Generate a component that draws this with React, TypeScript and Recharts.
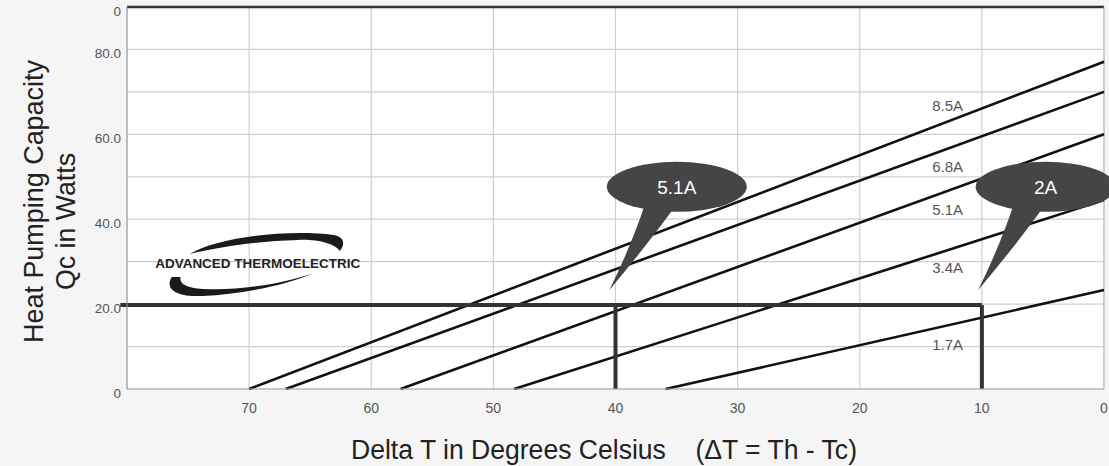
import React from 'react';
import { LineChart, Line, XAxis, YAxis, CartesianGrid, ReferenceLine, ReferenceDot } from 'recharts';

// pump current curves: each one is a straight line from (dT at Qc=0) to (Qc at dT=0)
const CURRENTS = ['8.5A', '6.8A', '5.1A', '3.4A', '1.7A'];
const DT_AT_ZERO_QC = [70, 67, 57.6, 48.3, 35.9];
const QC_AT_ZERO_DT = [77.1, 70, 60, 44.5, 23.3];
const LABEL_DT = 12.8;
const LABEL_QC = [66.7, 52.4, 42.2, 28.7, 10.6];

const X_TICKS = [80, 70, 60, 50, 40, 30, 20, 10, 0];
const Y_TICKS = [0, 10, 20, 30, 40, 50, 60, 70, 80, 90];
const Y_TICK_LABELS: Record<number, string> = { 0: '0', 20: '20.0', 40: '40.0', 60: '60.0', 80: '80.0', 90: '0' };

// operating point annotation
const OPERATING_QC = 19.8;
const OPERATING_DT = [40, 10];
const CALLOUTS = [
  { label: '5.1A', dt: 40.5, qc: 23.3 },
  { label: '2A', dt: 10.3, qc: 23.3 },
];
const LOGO = { dt: 69.3, qc: 29.7, text: 'ADVANCED THERMOELECTRIC' };

const FONT = '"Liberation Sans", Arial, sans-serif';

const series = CURRENTS.map((name, i) => ({
  name,
  data: [
    { x: DT_AT_ZERO_QC[i], y: 0 },
    { x: 0, y: QC_AT_ZERO_DT[i] },
  ],
}));

const Callout = ({ cx, cy, label }: any) => {
  // cx, cy is the tip of the pointer
  const ex = cx + 67.4;
  const ey = cy - 103.3;
  return (
    <g>
      <path
        d={`M ${ex - 32} ${ey + 18} Q ${cx + 22} ${cy - 45} ${cx} ${cy} Q ${cx + 40} ${cy - 48} ${ex - 2} ${ey + 20} Z`}
        fill="#454545"
      />
      <ellipse cx={ex} cy={ey} rx={70} ry={25} fill="#454545" />
      <text x={ex} y={ey + 7} textAnchor="middle" fill="#ffffff" fontSize={19} fontFamily={FONT}>
        {label}
      </text>
    </g>
  );
};

const Logo = ({ cx, cy }: any) => (
  <g transform={`translate(${cx},${cy})`}>
    <path
      d="M -68 -9 C -40 -26 30 -34 76 -28 C 88 -26 87 -17 82 -12 C 78 -19 60 -24 40 -23 C 0 -22 -40 -16 -68 -9 Z"
      fill="#1a1a1a"
    />
    <path
      d="M -86 14 C -94 28 -78 34 -55 33 C -15 31 30 22 56 10 C 25 21 -20 28 -55 26 C -72 25 -79 20 -77 14 Z"
      fill="#1a1a1a"
    />
    <text
      x={0}
      y={5}
      textAnchor="middle"
      fontSize={13}
      fontWeight="bold"
      fontFamily={FONT}
      fill="#222"
      textLength={205}
      lengthAdjust="spacingAndGlyphs"
    >
      {LOGO.text}
    </text>
  </g>
);

export default function App() {
  return (
    <div style={{ position: 'absolute', left: 0, top: 0, width: 1109, height: 466, background: '#f5f5f5', overflow: 'hidden' }}>
      <LineChart width={1109} height={466} margin={{ top: 7, right: 5, left: 0, bottom: 0 }}>
        <CartesianGrid fill="#ffffff" stroke="#cfcfcf" strokeWidth={1.2} />
        <XAxis
          type="number"
          dataKey="x"
          domain={[0, 80]}
          reversed
          ticks={X_TICKS}
          interval={0}
          tickFormatter={(v: number) => (v === 80 ? '' : String(v))}
          height={77}
          tickSize={0}
          tickMargin={14}
          tick={{ fill: '#555', fontSize: 14, fontFamily: FONT }}
          axisLine={{ stroke: '#aaa' }}
          tickLine={false}
        />
        <YAxis
          type="number"
          domain={[0, 90]}
          ticks={Y_TICKS}
          interval={0}
          tickFormatter={(v: number) => Y_TICK_LABELS[v] ?? ''}
          width={127}
          tickSize={0}
          tickMargin={6}
          tick={{ fill: '#555', fontSize: 13.5, fontFamily: FONT, dy: 4 }}
          axisLine={{ stroke: '#999' }}
          tickLine={false}
        />
        <ReferenceLine y={90} stroke="#333" strokeWidth={2.5} />
        <ReferenceLine x={0} stroke="#bbb" strokeWidth={1} />

        {series.map((s) => (
          <Line
            key={s.name}
            data={s.data}
            dataKey="y"
            name={s.name}
            stroke="#111"
            strokeWidth={2.6}
            dot={false}
            activeDot={false}
            isAnimationActive={false}
          />
        ))}

        <ReferenceLine
          segment={[{ x: 80.55, y: OPERATING_QC }, { x: OPERATING_DT[1], y: OPERATING_QC }]}
          stroke="#333"
          strokeWidth={4}
          ifOverflow="visible"
        />
        {OPERATING_DT.map((dt) => (
          <ReferenceLine
            key={dt}
            segment={[{ x: dt, y: 0 }, { x: dt, y: OPERATING_QC }]}
            stroke="#333"
            strokeWidth={4}
          />
        ))}

        {CURRENTS.map((name, i) => (
          <ReferenceDot
            key={name}
            x={LABEL_DT}
            y={LABEL_QC[i]}
            r={0}
            shape={(p: any) => (
              <text x={p.cx} y={p.cy + 5.5} textAnchor="middle" fontSize={15} fill="#555" fontFamily={FONT}>
                {name}
              </text>
            )}
          />
        ))}

        <ReferenceDot x={LOGO.dt} y={LOGO.qc} r={0} shape={(p: any) => <Logo cx={p.cx} cy={p.cy} />} />

        {CALLOUTS.map((c) => (
          <ReferenceDot
            key={c.label}
            x={c.dt}
            y={c.qc}
            r={0}
            shape={(p: any) => <Callout cx={p.cx} cy={p.cy} label={c.label} />}
          />
        ))}
      </LineChart>

      <svg width={1109} height={466} style={{ position: 'absolute', left: 0, top: 0, pointerEvents: 'none' }}>
        <text
          transform="translate(43,201.5) rotate(-90)"
          textAnchor="middle"
          fontSize={27}
          fontFamily={FONT}
          fill="#222"
          textLength={283}
          lengthAdjust="spacingAndGlyphs"
        >
          Heat Pumping Capacity
        </text>
        <text
          transform="translate(75,221.5) rotate(-90)"
          textAnchor="middle"
          fontSize={27}
          fontFamily={FONT}
          fill="#222"
          textLength={137}
          lengthAdjust="spacingAndGlyphs"
        >
          Qc in Watts
        </text>
        <text
          x={351}
          y={458.5}
          fontSize={27}
          fontFamily={FONT}
          fill="#222"
          textLength={506}
          lengthAdjust="spacingAndGlyphs"
          style={{ whiteSpace: 'pre' }}
        >
          {'Delta T in Degrees Celsius    (\u0394T = Th - Tc)'}
        </text>
      </svg>
    </div>
  );
}
